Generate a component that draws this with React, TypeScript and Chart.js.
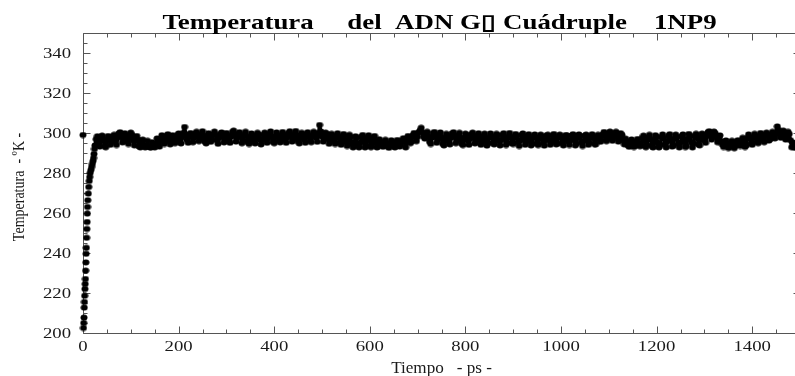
import { useEffect, useRef } from "react";
import { Chart, registerables } from "chart.js";

Chart.register(...registerables);

// Heading and axis captions
const chartTitle = "Temperatura     del  ADN G\u25AF Cuádruple    1NP9";
const xCaption = "Tiempo   - ps -";
const yCaption = "Temperatura  - ºK -";

// Axis ranges and labelled ticks
const xRange = [0, 1500];
const yRange = [200, 350];
const xTickValues = [0, 200, 400, 600, 800, 1000, 1200, 1400];
const yTickValues = [200, 220, 240, 260, 280, 300, 320, 340];
const xMinorStep = 50;
const yMinorStep = 5;

// Heating ramp at the start of the simulation (ps, K)
const rampTimes = [
  0, 1, 1.5, 2, 2.5, 3, 3.5, 4, 4.5, 5, 5.5, 6, 6.5, 7, 7.5, 8, 8.5, 9, 9.5, 10,
  11, 12, 13, 14, 15, 16.5, 18, 19.5, 21, 22, 23, 24,
];
const rampTemps = [
  299, 202.5, 205, 207.7, 212.7, 215.5, 218.6, 222, 224.5, 227, 231.2, 235.3,
  239.6, 242.6, 247.6, 252, 255.5, 259.7, 263, 266.4, 269.7, 273, 276, 278,
  280, 281.5, 283, 284.5, 286, 287.5, 289.5, 292,
];

// Equilibrated trajectory, sampled every 2.5 ps from 25 ps (K); one row per 100 ps
const plateauStart = 25;
const plateauStep = 2.5;
const plateauTemps = [
  // 25 - 122.5
  293.8, 296.9, 298.4, 295.6, 293.2, 296.1, 298.7, 297.0, 293.5, 292.9, 296.5, 298.5, 297.6, 294.1, 295.4, 298.3, 299.1, 296.4, 294.0, 297.5,
  299.8, 300.4, 298.2, 295.3, 297.6, 299.9, 298.8, 295.7, 294.5, 297.9, 300.2, 299.0, 296.2, 293.8, 296.4, 298.5, 296.7, 293.3, 292.8, 295.6,
  // 125 - 222.5
  296.7, 293.7, 292.8, 293.3, 296.1, 293.5, 292.8, 292.8, 295.4, 294.0, 292.8, 294.5, 297.3, 295.1, 293.2, 296.5, 298.9, 297.5, 294.5, 295.7,
  298.6, 299.4, 297.2, 294.3, 296.4, 298.9, 297.8, 294.9, 296.2, 299.0, 299.8, 297.3, 294.8, 297.9, 300.1, 303.0, 299.4, 296.5, 295.1, 298.4,
  // 225 - 322.5
  300.0, 298.1, 295.4, 297.6, 299.8, 300.6, 298.4, 295.9, 297.2, 299.5, 300.9, 298.8, 295.7, 294.8, 297.9, 299.9, 298.6, 295.6, 296.7, 299.3,
  300.7, 299.1, 296.4, 294.6, 297.5, 299.6, 300.3, 298.0, 295.3, 297.8, 300.0, 298.9, 296.1, 295.1, 298.2, 300.5, 301.2, 298.7, 295.7, 297.6,
  // 325 - 422.5
  299.7, 300.4, 298.0, 294.9, 296.5, 299.2, 300.6, 298.5, 295.4, 294.5, 297.7, 299.8, 298.9, 295.9, 294.8, 298.0, 300.1, 299.3, 296.7, 294.3,
  296.4, 299.0, 300.2, 298.1, 295.1, 297.3, 299.6, 300.8, 298.6, 295.6, 294.9, 298.1, 300.3, 299.0, 296.2, 295.3, 298.4, 300.5, 299.2, 296.5,
  // 425 - 522.5
  295.1, 297.8, 300.0, 300.9, 298.5, 295.7, 297.0, 299.6, 301.0, 298.9, 295.9, 294.8, 297.9, 300.1, 299.4, 296.7, 295.1, 298.2, 300.4, 299.0,
  296.1, 295.4, 298.5, 300.6, 300.0, 297.6, 295.6, 299.2, 304.0, 300.8, 298.3, 295.7, 297.9, 300.2, 299.5, 296.9, 294.6, 297.2, 299.6, 298.7,
  // 525 - 622.5
  295.9, 294.5, 297.8, 299.9, 298.4, 295.3, 294.1, 297.2, 299.5, 298.6, 295.4, 293.5, 296.5, 299.1, 298.0, 294.6, 292.8, 295.1, 298.4, 297.6,
  293.8, 292.8, 294.9, 298.2, 299.0, 296.1, 292.8, 294.0, 297.7, 298.9, 296.4, 292.9, 294.5, 297.9, 298.5, 295.4, 292.8, 293.5, 296.9, 295.7,
  // 625 - 722.5
  294.3, 293.1, 294.8, 296.6, 295.2, 293.3, 292.6, 294.4, 296.4, 295.6, 293.5, 292.8, 294.7, 296.5, 295.1, 293.2, 294.0, 296.2, 297.4, 295.6,
  292.8, 295.6, 298.5, 297.9, 294.9, 295.7, 298.8, 300.0, 298.1, 295.9, 298.0, 300.4, 301.2, 302.6, 300.3, 298.2, 297.2, 299.5, 300.6, 298.5,
  // 725 - 822.5
  295.6, 294.5, 297.7, 299.9, 300.5, 298.2, 295.1, 296.5, 299.2, 300.3, 298.0, 294.6, 293.8, 297.3, 299.6, 298.7, 295.7, 294.3, 297.6, 299.8,
  300.4, 298.1, 294.9, 296.1, 298.9, 300.1, 297.8, 294.5, 294.0, 297.5, 299.7, 299.0, 296.1, 294.1, 297.0, 299.4, 300.2, 297.9, 294.8, 295.9,
  // 825 - 922.5
  298.8, 299.9, 297.6, 294.1, 295.4, 298.5, 299.7, 297.2, 293.7, 294.9, 298.1, 299.8, 298.4, 295.1, 294.3, 297.7, 299.6, 298.9, 295.9, 293.8,
  296.4, 299.1, 299.9, 297.5, 294.0, 295.3, 298.4, 300.0, 298.2, 294.8, 294.5, 297.9, 299.5, 298.6, 295.4, 293.5, 296.2, 299.0, 299.8, 297.3,
  // 925 - 1022.5
  294.1, 295.6, 298.5, 299.4, 297.0, 293.8, 294.9, 298.1, 299.3, 297.8, 294.5, 294.0, 297.3, 299.2, 298.3, 295.1, 293.7, 296.4, 298.9, 299.1,
  296.5, 294.1, 295.4, 298.6, 299.5, 297.2, 294.3, 294.8, 298.0, 299.2, 298.1, 294.9, 293.8, 296.9, 299.0, 298.7, 295.7, 294.0, 296.1, 298.8,
  // 1025 - 1122.5
  299.4, 296.7, 293.8, 294.6, 297.9, 299.3, 298.4, 295.3, 293.5, 295.9, 298.7, 299.2, 296.4, 294.1, 295.1, 298.3, 299.4, 297.7, 294.5, 294.3,
  297.6, 299.1, 298.5, 295.6, 296.5, 299.3, 300.5, 298.6, 295.9, 297.0, 299.6, 300.7, 298.4, 296.1, 297.3, 299.8, 300.6, 298.2, 295.7, 297.6,
  // 1125 - 1222.5
  299.9, 299.0, 296.2, 294.3, 297.2, 296.0, 293.9, 293.1, 295.0, 296.8, 295.2, 293.0, 293.6, 295.8, 297.0, 294.9, 293.4, 293.8, 297.5, 298.7,
  295.9, 292.9, 294.1, 297.8, 299.1, 297.2, 293.5, 292.8, 296.2, 298.9, 298.2, 294.8, 292.8, 294.3, 297.9, 299.3, 297.6, 294.0, 292.8, 295.6,
  // 1225 - 1322.5
  298.6, 299.4, 296.9, 293.2, 293.7, 297.3, 299.2, 298.0, 294.5, 292.8, 294.9, 298.3, 299.3, 296.7, 293.0, 293.5, 297.2, 299.5, 298.6, 295.3,
  292.8, 294.8, 298.1, 299.6, 297.9, 294.3, 293.8, 297.5, 299.7, 299.0, 296.1, 295.1, 298.4, 300.4, 300.9, 298.7, 296.7, 298.6, 300.7, 299.9,
  // 1325 - 1422.5
  297.6, 295.4, 297.9, 298.8, 295.9, 294.2, 293.0, 294.6, 296.3, 294.7, 292.5, 292.9, 294.9, 296.1, 294.0, 292.4, 293.6, 295.7, 296.4, 294.3,
  293.5, 294.5, 297.6, 296.4, 293.0, 293.8, 297.6, 299.3, 298.0, 294.8, 294.1, 297.7, 299.6, 298.6, 295.6, 294.9, 298.1, 300.0, 299.2, 296.4,
  // 1425 - 1500
  295.4, 298.5, 300.2, 299.0, 296.2, 296.9, 299.4, 300.6, 298.7, 297.3, 299.9, 303.3, 301.6, 299.0, 297.6, 299.8, 301.2, 299.3, 296.7, 298.4,
  300.6, 299.5, 296.4, 292.9, 295.3, 292.8, 292.8, 292.8, 294.1, 292.8, 292.4,
];

const SERIF = "'Liberation Serif', 'Times New Roman', serif";
const AXIS_COLOR = "#555555";
const TEXT_COLOR = "#1a1a1a";
const STRETCH = 1.25;

function rampPoints() {
  return rampTimes.map((t, i) => ({ x: t, y: rampTemps[i] }));
}

function plateauPoints() {
  return plateauTemps.map((v, i) => ({ x: plateauStart + i * plateauStep, y: v }));
}

// Small filled ellipse used as the marker
function makeMarker() {
  const c = document.createElement("canvas");
  c.width = 8;
  c.height = 7;
  const g = c.getContext("2d")!;
  g.fillStyle = "#000";
  g.beginPath();
  g.ellipse(4, 3.5, 3.5, 3, 0, 0, Math.PI * 2);
  g.fill();
  return c;
}

// Text drawn with a horizontal stretch (wide Times look)
function stretchedText(
  ctx: CanvasRenderingContext2D,
  text: string,
  x: number,
  y: number,
  font: string,
  align: CanvasTextAlign,
  sx: number
) {
  ctx.save();
  ctx.translate(x, y);
  ctx.scale(sx, 1);
  ctx.font = font;
  ctx.textAlign = align;
  ctx.textBaseline = "alphabetic";
  ctx.fillText(text, 0, 0);
  ctx.restore();
}

// Boxed frame with inward major/minor ticks on all four sides, tick labels and captions
const framePlugin = {
  id: "frameTicks",
  beforeDatasetsDraw(chart: any) {
    const { ctx, chartArea } = chart;
    const xs = chart.scales.x;
    const ys = chart.scales.y;
    const L = Math.floor(chartArea.left) + 0.5;
    const R = Math.floor(chartArea.right) + 0.5;
    const T = Math.floor(chartArea.top) + 0.5;
    const B = Math.floor(chartArea.bottom) + 0.5;
    ctx.save();
    ctx.strokeStyle = AXIS_COLOR;
    ctx.lineWidth = 1;
    ctx.beginPath();
    ctx.moveTo(L, T);
    ctx.lineTo(R, T);
    ctx.lineTo(R, B);
    ctx.lineTo(L, B);
    ctx.closePath();
    ctx.stroke();

    const major = 7;
    const minor = 4;
    ctx.beginPath();
    for (let v = xRange[0]; v <= xRange[1]; v += xMinorStep) {
      const len = xTickValues.includes(v) ? major : minor;
      const px = Math.round(xs.getPixelForValue(v)) + 0.5;
      ctx.moveTo(px, B);
      ctx.lineTo(px, B - len);
      ctx.moveTo(px, T);
      ctx.lineTo(px, T + len);
    }
    for (let v = yRange[0]; v <= yRange[1]; v += yMinorStep) {
      const len = yTickValues.includes(v) ? major : minor;
      const py = Math.round(ys.getPixelForValue(v)) + 0.5;
      ctx.moveTo(L, py);
      ctx.lineTo(L + len, py);
      ctx.moveTo(R, py);
      ctx.lineTo(R - len, py);
    }
    ctx.stroke();

    // tick labels
    ctx.fillStyle = TEXT_COLOR;
    const tickFont = `15px ${SERIF}`;
    xTickValues.forEach((v) => {
      stretchedText(ctx, String(v), xs.getPixelForValue(v), B + 17.5, tickFont, "center", STRETCH);
    });
    yTickValues.forEach((v) => {
      stretchedText(ctx, String(v), L - 12.5, ys.getPixelForValue(v) + 5, tickFont, "right", STRETCH);
    });

    // x caption
    stretchedText(ctx, xCaption, (chartArea.left + chartArea.right) / 2, 372.5, `16px ${SERIF}`, "center", 1.07);

    // y caption, rotated; stretched across the text direction
    ctx.save();
    ctx.translate(23.5, (chartArea.top + chartArea.bottom) / 2 + 4);
    ctx.rotate(-Math.PI / 2);
    ctx.scale(1, STRETCH);
    ctx.font = `14px ${SERIF}`;
    ctx.textAlign = "center";
    ctx.textBaseline = "alphabetic";
    ctx.fillText(yCaption, 0, 0);
    ctx.restore();

    // heading
    ctx.fillStyle = "#000";
    stretchedText(ctx, chartTitle, (chartArea.left + chartArea.right) / 2 - 2, 29, `bold 21px ${SERIF}`, "center", 1.28);
    ctx.restore();
  },
};

export default function App() {
  const canvasRef = useRef<HTMLCanvasElement | null>(null);

  useEffect(() => {
    const canvas = canvasRef.current;
    if (!canvas) return;
    const marker = makeMarker();
    const chart = new Chart(canvas, {
      type: "scatter",
      data: {
        datasets: [
          {
            // heating ramp: separate dots
            data: rampPoints(),
            pointStyle: marker,
            pointRadius: 3,
            pointHoverRadius: 3,
            showLine: false,
            clip: false,
          } as any,
          {
            // equilibrium: densely packed dots forming a solid ribbon
            data: plateauPoints(),
            pointStyle: marker,
            pointRadius: 3,
            pointHoverRadius: 3,
            showLine: true,
            borderColor: "#000",
            borderWidth: 3.5,
            borderJoinStyle: "round",
            borderCapStyle: "round",
            tension: 0,
            clip: false,
          } as any,
        ],
      },
      options: {
        animation: false,
        responsive: false,
        devicePixelRatio: 1,
        events: [],
        layout: { padding: { top: 33, right: 10, left: 0, bottom: 0 } },
        plugins: {
          legend: { display: false },
          tooltip: { enabled: false },
          title: { display: false },
        },
        scales: {
          x: {
            type: "linear",
            min: xRange[0],
            max: xRange[1],
            grid: { display: false, drawTicks: false },
            border: { display: false },
            ticks: { display: false },
            afterFit: (s: any) => {
              s.height = 43;
            },
          },
          y: {
            type: "linear",
            min: yRange[0],
            max: yRange[1],
            grid: { display: false, drawTicks: false },
            border: { display: false },
            ticks: { display: false },
            afterFit: (s: any) => {
              s.width = 83;
            },
          },
        },
      },
      plugins: [framePlugin],
    });
    return () => chart.destroy();
  }, []);

  return (
    <div
      style={{
        position: "fixed",
        left: 0,
        top: 0,
        width: 795,
        height: 376,
        overflow: "hidden",
        background: "#fff",
      }}
    >
      <canvas ref={canvasRef} width={810} height={376} style={{ display: "block" }} />
    </div>
  );
}
